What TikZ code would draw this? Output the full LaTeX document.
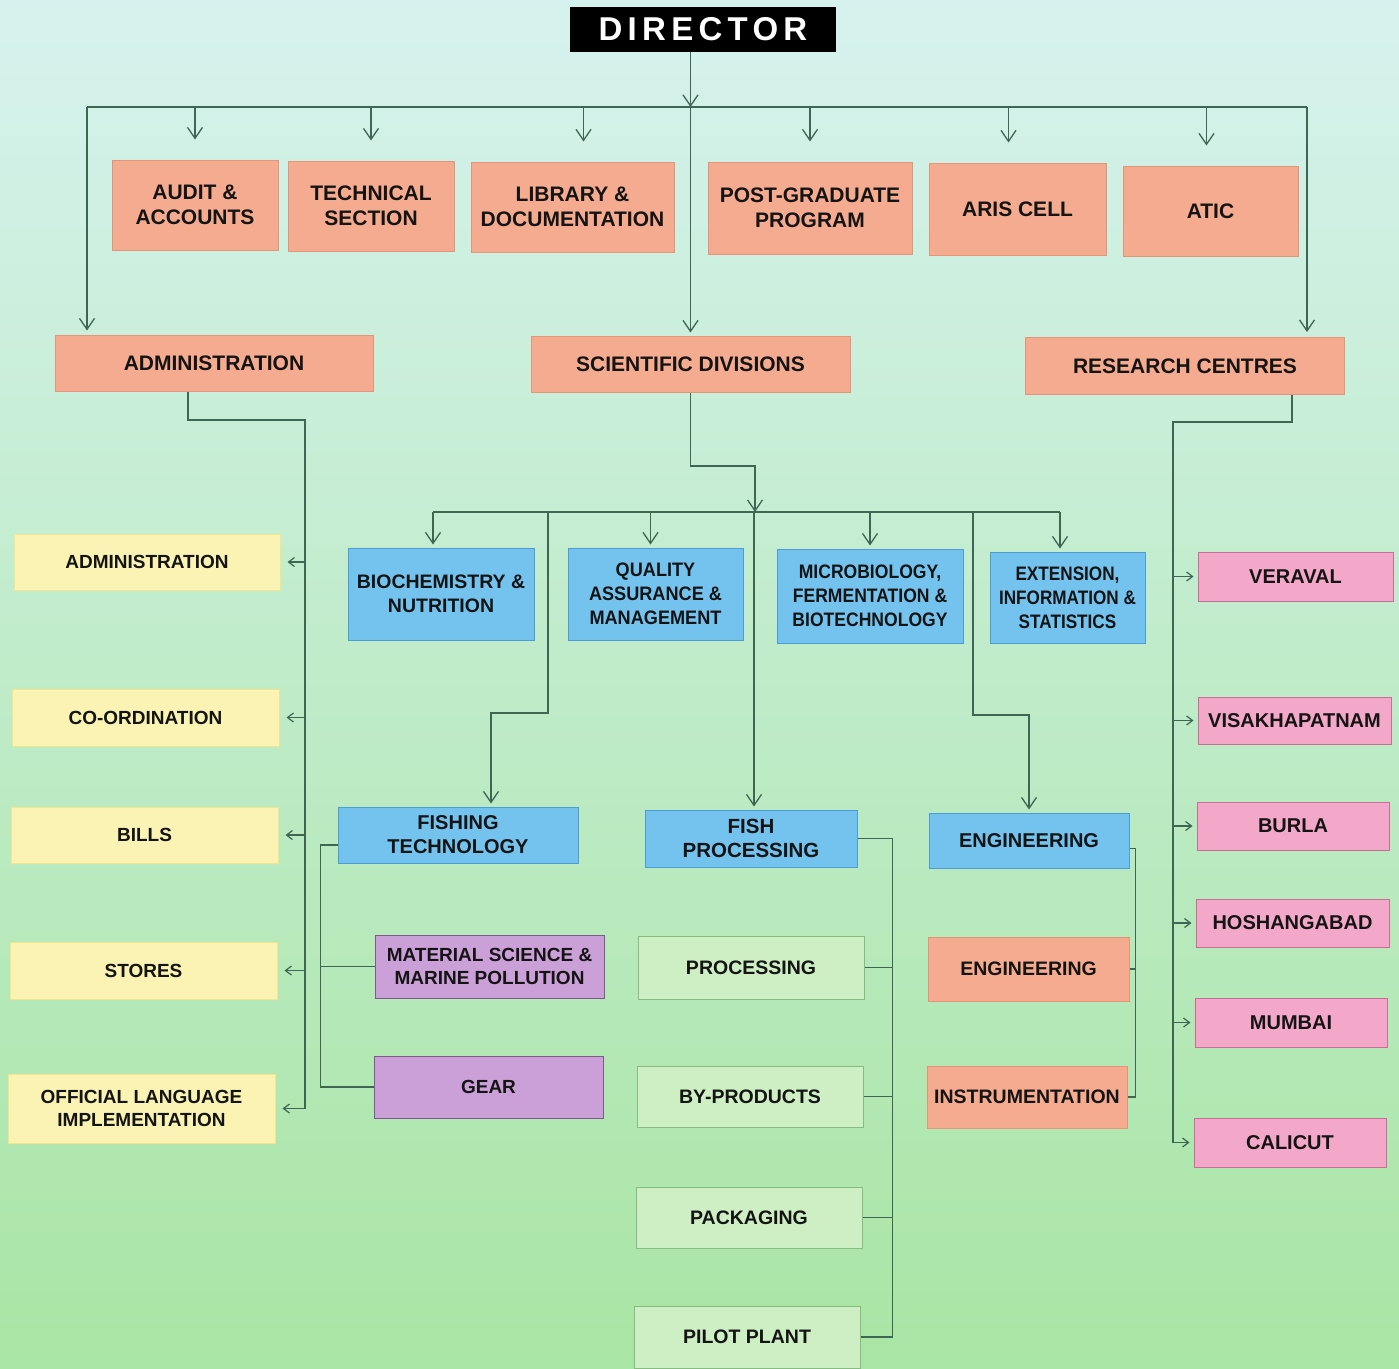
\documentclass[tikz,border=0pt]{standalone}
\usepackage{fontspec}
\setmainfont{Liberation Sans}
\usetikzlibrary{arrows.meta}

\definecolor{fondhaut}{HTML}{D6F2EE}
\definecolor{fondbas}{HTML}{A9E5A4}
\definecolor{trait}{HTML}{3F6652}
\definecolor{saumon}{HTML}{F5AB8F}
\definecolor{saumonb}{HTML}{E3957A}
\definecolor{jaune}{HTML}{FAF3B4}
\definecolor{jauneb}{HTML}{F1E68E}
\definecolor{bleu}{HTML}{74C3EE}
\definecolor{bleub}{HTML}{4E9CD4}
\definecolor{violet}{HTML}{CB9FD7}
\definecolor{violetb}{HTML}{7C5A8A}
\definecolor{vert}{HTML}{CDEFC3}
\definecolor{vertb}{HTML}{86BC80}
\definecolor{rose}{HTML}{F4A8C9}
\definecolor{roseb}{HTML}{C66E95}

\newcommand{\corpsb}[2]{\bfseries\fontsize{#1}{#2}\selectfont}

\begin{document}
\begin{tikzpicture}[x=1pt,y=-1pt,
	>={Straight Barb[length=11pt,width=15pt,line width=1.3pt]},
	petite/.style={-{Straight Barb[length=6pt,width=9pt,line width=1.2pt]}},
	lien/.style={draw=trait,line width=1.4pt},
	boite/.style={draw,line width=1pt,align=center,inner sep=1pt,text=black!92},
	saumon/.style={boite,fill=saumon,draw=saumonb,font=\corpsb{21}{25}},
	jaune/.style={boite,fill=jaune,draw=jauneb,font=\corpsb{19}{23}},
	bleu/.style={boite,fill=bleu,draw=bleub,font=\corpsb{19.5}{24}},
	violet/.style={boite,fill=violet,draw=violetb,font=\corpsb{19}{23}},
	vert/.style={boite,fill=vert,draw=vertb,font=\corpsb{19.5}{23}},
	rose/.style={boite,fill=rose,draw=roseb,font=\corpsb{20}{24}},
	]
	\useasboundingbox (0,0) rectangle (1399,1368);
	\shade[top color=fondhaut,bottom color=fondbas] (0,0) rectangle (1399,1368); % le fond

	% la direction
	\node[fill=black,text=white,minimum width=266,minimum height=45,
		font=\corpsb{33}{33}\addfontfeature{LetterSpace=16}] (director) at (703,29.5) {DIRECTOR};

	% premiere rangee
	\node[saumon,minimum width=166,minimum height=90] (audit) at (195,205) {AUDIT \&\\ACCOUNTS};
	\node[saumon,minimum width=166,minimum height=90] (tech) at (371,206) {TECHNICAL\\SECTION};
	\node[saumon,minimum width=203,minimum height=90] (library) at (572.5,207) {LIBRARY \&\\DOCUMENTATION};
	\node[saumon,minimum width=204,minimum height=92] (postgrad) at (810,208) {POST-GRADUATE\\PROGRAM};
	\node[saumon,minimum width=177,minimum height=92] (aris) at (1017.5,209) {ARIS CELL};
	\node[saumon,minimum width=175,minimum height=90] (atic) at (1210.5,211) {ATIC};

	\node[saumon,minimum width=318,minimum height=56] (admin) at (214,363) {ADMINISTRATION};
	\node[saumon,minimum width=319,minimum height=56] (scidiv) at (690.5,364) {SCIENTIFIC DIVISIONS};
	\node[saumon,minimum width=319,minimum height=57] (rescen) at (1185,366) {RESEARCH CENTRES};

	% administration
	\node[jaune,minimum width=266,minimum height=56] (yadmin) at (147,562) {ADMINISTRATION};
	\node[jaune,minimum width=267,minimum height=57] (coord) at (145.5,717.5) {CO-ORDINATION};
	\node[jaune,minimum width=267,minimum height=56] (bills) at (144.5,835) {BILLS};
	\node[jaune,minimum width=267,minimum height=57] (stores) at (143.5,970.5) {STORES};
	\node[jaune,minimum width=267,minimum height=69] (olang) at (141.5,1108.5) {OFFICIAL LANGUAGE\\IMPLEMENTATION};

	% divisions scientifiques
	\node[bleu,minimum width=186,minimum height=92] (biochem) at (441,594) {BIOCHEMISTRY \&\\NUTRITION};
	\node[bleu,minimum width=175,minimum height=92,font=\corpsb{19.5}{24}\addfontfeature{FakeStretch=0.93}] (quality) at (655.5,594) {QUALITY\\ASSURANCE \&\\MANAGEMENT};
	\node[bleu,minimum width=186,minimum height=94,font=\corpsb{19.5}{24}\addfontfeature{FakeStretch=0.9}] (micro) at (870,596) {MICROBIOLOGY,\\FERMENTATION \&\\BIOTECHNOLOGY};
	\node[bleu,minimum width=155,minimum height=91,font=\corpsb{19.5}{24}\addfontfeature{FakeStretch=0.88}] (extn) at (1067.5,597.5) {EXTENSION,\\INFORMATION \&\\STATISTICS};
	\node[bleu,minimum width=240,minimum height=56,font=\corpsb{20}{24}] (fishtech) at (458,835) {FISHING\\TECHNOLOGY};
	\node[bleu,minimum width=212,minimum height=57,font=\corpsb{20.5}{24}] (fishproc) at (751,838.5) {FISH\\PROCESSING};
	\node[bleu,minimum width=200,minimum height=55,font=\corpsb{20}{24}] (engg) at (1029,840.5) {ENGINEERING};

	\node[violet,minimum width=229,minimum height=63] (matsci) at (489.5,966.5) {MATERIAL SCIENCE \&\\MARINE POLLUTION};
	\node[violet,minimum width=229,minimum height=62] (gear) at (488.5,1087) {GEAR};

	\node[vert,minimum width=226,minimum height=63] (proc) at (751,967.5) {PROCESSING};
	\node[vert,minimum width=226,minimum height=61] (byprod) at (750,1096.5) {BY-PRODUCTS};
	\node[vert,minimum width=226,minimum height=61] (pack) at (749,1217.5) {PACKAGING};
	\node[vert,minimum width=226,minimum height=62] (pilot) at (747,1337) {PILOT PLANT};

	\node[saumon,minimum width=201,minimum height=64,font=\corpsb{19.5}{24}] (engg2) at (1028.5,969) {ENGINEERING};
	\node[saumon,minimum width=200,minimum height=62,font=\corpsb{19.5}{24}] (instr) at (1027,1097) {INSTRUMENTATION};

	% centres de recherche
	\node[rose,minimum width=195,minimum height=49] (veraval) at (1295.5,576.5) {VERAVAL};
	\node[rose,minimum width=193,minimum height=47] (visakha) at (1294.5,720.5) {VISAKHAPATNAM};
	\node[rose,minimum width=192,minimum height=48] (burla) at (1293,826) {BURLA};
	\node[rose,minimum width=193,minimum height=48] (hoshang) at (1292.5,923) {HOSHANGABAD};
	\node[rose,minimum width=192,minimum height=49] (mumbai) at (1291,1022.5) {MUMBAI};
	\node[rose,minimum width=192,minimum height=49] (calicut) at (1290,1142.5) {CALICUT};

	% liaisons du haut
	\coordinate (busL) at (87,107);
	\coordinate (busR) at (1307,107);
	\draw[lien,->] (scidiv.north |- director.south) -- (scidiv.north |- busL);
	\draw[lien,->,shorten >=3pt] (scidiv.north |- busL) -- (scidiv.north);
	\draw[lien] (busL) -- (busR);
	\draw[lien,->,shorten >=4pt] (busL) -- (busL |- admin.north);
	\draw[lien,->,shorten >=5pt] (busR) -- (busR |- rescen.north);
	\foreach \n/\dx in {audit/0,tech/0,library/11,postgrad/0,aris/-9,atic/-4}
		\draw[lien,->,shorten >=20pt] ([xshift=\dx pt]\n.north |- busL) -- ([xshift=\dx pt]\n.north);

	% administration
	\coordinate (adm) at (305,420);
	\draw[lien,petite] ([xshift=-26pt]admin.south) |- (adm) |- ([xshift=7pt]olang.east);
	\foreach \n in {yadmin,coord,bills,stores}
		\draw[lien,petite] (adm |- \n.east) -- ([xshift=7pt]\n.east);

	% divisions scientifiques
	\coordinate (sd) at (755,466);
	\coordinate (subL) at (433,512);
	\coordinate (subR) at (1060,512);
	\draw[lien,->] (scidiv.south) |- (sd) -- (sd |- subL);
	\draw[lien] (subL) -- (subR);
	\draw[lien,->,shorten >=3pt] (subL) -- (subL |- biochem.north);
	\draw[lien,->,shorten >=3pt] (subR) -- (subR |- extn.north);
	\foreach \n/\dx in {quality/-5,micro/0}
		\draw[lien,->,shorten >=3pt] ([xshift=\dx pt]\n.north |- subL) -- ([xshift=\dx pt]\n.north);
	\coordinate (ft) at (548,713);
	\draw[lien,->,shorten >=3pt] (ft |- subL) -- (ft) -| ([xshift=33pt]fishtech.north);
	\draw[lien,->,shorten >=3pt] ([xshift=3pt]fishproc.north |- subL) -- ([xshift=3pt]fishproc.north);
	\coordinate (en) at (973,715);
	\draw[lien,->,shorten >=3pt] (en |- subL) -- (en) -| (engg.north);

	% sous-groupes
	\draw[lien] ([yshift=-10pt]fishtech.west) -| ([xshift=-53pt]gear.west) -- (gear.west);
	\draw[lien] (matsci.west) -- ([xshift=-54pt]matsci.west);
	\coordinate (fpx) at ([xshift=32pt]pilot.east);
	\draw[lien] (fishproc.east) -| (fpx) -- (pilot.east);
	\foreach \n in {proc,byprod,pack}
		\draw[lien] (\n.east) -- (\n.east -| fpx);
	\coordinate (enx) at ([xshift=8pt]instr.east);
	\draw[lien] ([yshift=-8pt]engg.east) -| (enx) -- (instr.east);
	\draw[lien] (engg2.east) -- (engg2.east -| enx);

	% centres de recherche
	\coordinate (rc) at (1173,422);
	\draw[lien,petite] ([xshift=107pt]rescen.south) |- (rc) |- ([xshift=-4pt]calicut.west);
	\foreach \n in {veraval,visakha,burla,hoshang,mumbai}
		\draw[lien,petite] (rc |- \n.west) -- ([xshift=-4pt]\n.west);
\end{tikzpicture}
\end{document}
